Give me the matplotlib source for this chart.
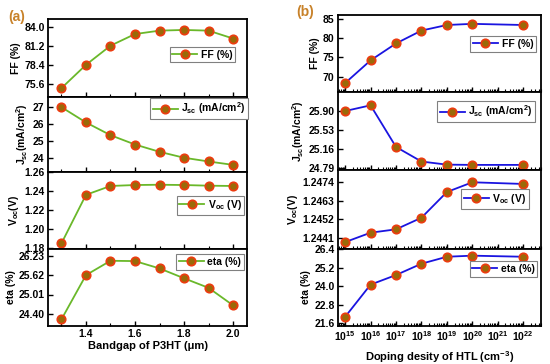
import numpy as np
import matplotlib
matplotlib.use("Agg")
from matplotlib import pyplot as plt
from matplotlib.ticker import FixedLocator, MultipleLocator, LogLocator, NullFormatter

plt.rcParams['font.family'] = ['Liberation Sans', 'DejaVu Sans']
plt.rcParams['font.weight'] = 'bold'
plt.rcParams['mathtext.fontset'] = 'custom'
plt.rcParams['mathtext.rm'] = 'Liberation Sans:bold'
plt.rcParams['mathtext.it'] = 'Liberation Sans:bold'
plt.rcParams['mathtext.bf'] = 'Liberation Sans:bold'
plt.rcParams['mathtext.default'] = 'bf'

# (a) bandgap of P3HT
bandgap = [1.3, 1.4, 1.5, 1.6, 1.7, 1.8, 1.9, 2.0]
ff_a = [75.0, 78.4, 81.2, 82.9, 83.4, 83.5, 83.4, 82.25]
jsc_a = [27.0, 26.1, 25.35, 24.8, 24.37, 24.02, 23.8, 23.6]
voc_a = [1.185, 1.236, 1.2453, 1.2463, 1.2466, 1.2463, 1.2456, 1.2453]
eta_a = [24.23, 25.62, 26.07, 26.06, 25.83, 25.52, 25.22, 24.67]

# (b) doping density of HTL
doping = [1e15, 1e16, 1e17, 1e18, 1e19, 1e20, 1e22]
ff_b = [68.3, 74.2, 78.6, 81.95, 83.4, 83.7, 83.4]
jsc_b = [25.89, 26.0, 25.2, 24.92, 24.86, 24.855, 24.855]
voc_b = [1.24384, 1.2444, 1.2446, 1.24529, 1.24682, 1.2474, 1.2473]
eta_b = [22.02, 24.1, 24.72, 25.45, 25.9, 25.97, 25.9]

names = ['FF (%)', 'J$_{sc}$ (mA/cm$^2$)', 'V$_{oc}$ (V)', 'eta (%)']
ylabels = ['FF (%)', 'J$_{sc}$(mA/cm$^2$)', 'V$_{oc}$(V)', 'eta (%)']

yticks_a = [[75.6, 78.4, 81.2, 84.0], [24, 25, 26, 27],
            [1.18, 1.20, 1.22, 1.24, 1.26], [24.40, 25.01, 25.62, 26.23]]
yfmt_a = ['%.1f', '%d', '%.2f', '%.2f']
ylim_a = [(73.7, 85.1), (23.18, 27.6), (1.179, 1.26), (24.02, 26.44)]
leg_a = [(0.776, 0.54), (0.76, 0.847), (0.817, 0.57), (0.814, 0.83)]

yticks_b = [[70, 75, 80, 85], [24.79, 25.16, 25.53, 25.90],
            [1.2441, 1.2452, 1.2463, 1.2474], [21.6, 22.8, 24.0, 25.2, 26.4]]
yfmt_b = ['%d', '%.2f', '%.4f', '%.1f']
ylim_b = [(65.9, 86.0), (24.757, 26.25), (1.24343, 1.24813), (21.43, 26.4)]
leg_b = [(0.813, 0.625), (0.73, 0.753), (0.773, 0.633), (0.815, 0.74)]

W, H = 550, 364
fig = plt.figure(figsize=(5.5, 3.64), dpi=100)


def panel(left, right, bounds, x, series, color, yticks, yfmt, ylims, legpos, logx):
    axes = []
    for i in range(4):
        top, bot = bounds[i], bounds[i + 1]
        ax = fig.add_axes([left / W, 1 - bot / H, (right - left) / W, (bot - top) / H])
        ax.plot(x, series[i], '-', color=color, lw=1.3, marker='o', ms=6,
                mfc='#9a6a08', mec='#ec3c10', mew=1.3, label=names[i])
        ax.set_ylim(*ylims[i])
        ax.yaxis.set_major_locator(FixedLocator(yticks[i]))
        ax.set_yticklabels([yfmt[i] % v for v in yticks[i]])
        if logx:
            ax.set_xscale('log')
            ax.set_xlim(10 ** 14.72, 10 ** 22.7)
            ax.xaxis.set_major_locator(LogLocator(base=10, numticks=20))
            ax.xaxis.set_minor_locator(LogLocator(base=10, subs=np.arange(2, 10), numticks=20))
            ax.xaxis.set_minor_formatter(NullFormatter())
        else:
            ax.set_xlim(1.245, 2.057)
            ax.xaxis.set_major_locator(MultipleLocator(0.2))
            ax.xaxis.set_minor_locator(MultipleLocator(0.1))
        ax.tick_params(which='both', direction='in', labelsize=7.5, pad=2.5)
        ax.tick_params(which='major', length=3.5, width=1)
        ax.tick_params(which='minor', length=2, width=0.8)
        for s in ax.spines.values():
            s.set_linewidth(1.3)
        if i < 3:
            ax.tick_params(labelbottom=False)
        ax.set_ylabel(ylabels[i], fontsize=7.5, fontweight='bold', labelpad=2)
        leg = ax.legend(loc='center', bbox_to_anchor=legpos[i], fontsize=7.5,
                        fancybox=False, framealpha=1, edgecolor='#808080',
                        handlelength=2.4, borderpad=0.25, handletextpad=0.35,
                        borderaxespad=0)
        leg.get_frame().set_linewidth(0.8)
        axes.append(ax)
    return axes


axa = panel(48, 247, [19, 97, 172, 249, 326], bandgap, [ff_a, jsc_a, voc_a, eta_a],
            '#6ab82a', yticks_a, yfmt_a, ylim_a, leg_a, False)
axa[3].set_xlabel('Bandgap of P3HT (\u03bcm)', fontsize=8, fontweight='bold', labelpad=1)

axb = panel(338, 541, [15, 92.3, 170, 249, 326], doping, [ff_b, jsc_b, voc_b, eta_b],
            '#1a14e0', yticks_b, yfmt_b, ylim_b, leg_b, True)
axb[3].set_xlabel('Doping desity of HTL (cm$^{-3}$)', fontsize=8, fontweight='bold', labelpad=4)

fig.text(8 / W, 1 - 17 / H, '(a)', color='#c8822a', fontsize=10, fontweight='bold', va='center')
fig.text(296 / W, 1 - 12 / H, '(b)', color='#c8822a', fontsize=10, fontweight='bold', va='center')

fig.savefig('out.png', dpi=100)
